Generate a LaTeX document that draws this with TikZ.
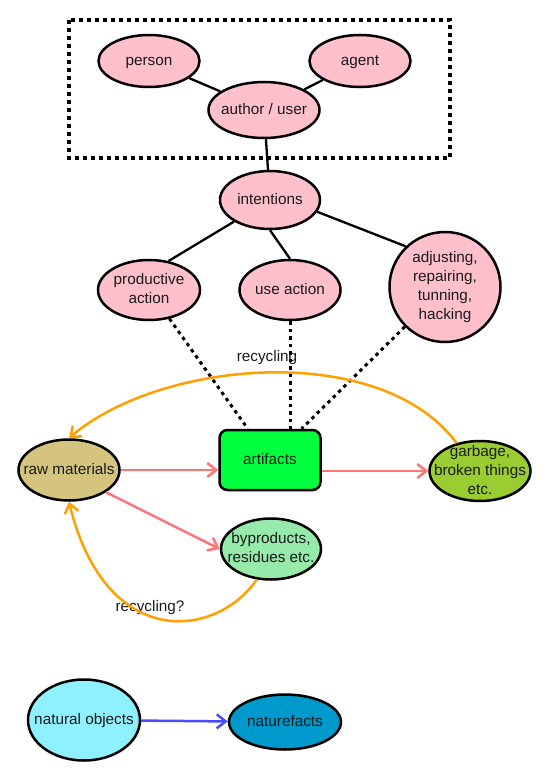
\documentclass[tikz,border=0pt]{standalone}
\usepackage{fontspec}
\setmainfont{Liberation Sans}
\usetikzlibrary{arrows.meta,shapes.geometric}
\definecolor{pinkc}{HTML}{FFC0CB}
\definecolor{rawc}{HTML}{D4C47E}
\definecolor{artc}{HTML}{00FF3C}
\definecolor{garbc}{HTML}{9ACD32}
\definecolor{byc}{HTML}{96EBAA}
\definecolor{natc}{HTML}{8FF0FF}
\definecolor{nfc}{HTML}{0099CC}
\definecolor{orc}{HTML}{FFA000}
\definecolor{redc}{HTML}{FF7575}
\definecolor{bluec}{HTML}{4B4BFF}
\definecolor{txtc}{HTML}{1A1A1A}
\newcommand\nodetxt[1]{\makebox[0pt]{\raisebox{-0.25em}[0pt][0pt]{\begin{tabular}{@{}c@{}}#1\end{tabular}}}}
\tikzset{
  base/.style={font=\fontsize{15.3bp}{19bp}\selectfont, text=txtc},
  ell/.style={base, ellipse, draw=black, line width=2.5bp, inner sep=0pt, fill=pinkc},
  boxnode/.style={base, rectangle, rounded corners=8bp, draw=black, line width=2.5bp, inner sep=0pt, fill=artc},
  lbl/.style={base, inner sep=1bp},
  conn/.style={line width=2.3bp, black},
  dotc/.style={line width=3bp, black, dash pattern=on 3.5bp off 4bp},
  framec/.style={line width=3.5bp, black, dash pattern=on 4bp off 4bp},
  barb/.style={-{Straight Barb[length=9bp,width=14bp]}},
  redarr/.style={barb, line width=2.5bp, redc},
  orarr/.style={barb, line width=2.5bp, orc},
  bluearr/.style={barb, line width=2.5bp, bluec},
}
\begin{document}
\begin{tikzpicture}[x=1bp, y=-1bp]
\useasboundingbox (0,0) rectangle (550,780);
% frame
\draw[framec] (69,20) rectangle (450,158);
% nodes
\node[ell, minimum width=101bp, minimum height=52bp] (person) at (149,61) {\nodetxt{person}};
\node[ell, minimum width=101bp, minimum height=52bp] (agent) at (360,61) {\nodetxt{agent}};
\node[ell, minimum width=111bp, minimum height=56bp] (author) at (264,110) {\nodetxt{author / user}};
\node[ell, minimum width=100bp, minimum height=58bp] (intentions) at (270,200) {\nodetxt{intentions}};
\node[ell, minimum width=102bp, minimum height=60bp] (productive) at (149,290) {\nodetxt{productive\\action}};
\node[ell, minimum width=101bp, minimum height=60bp] (use) at (290,290) {\nodetxt{use action}};
\node[ell, minimum width=111bp, minimum height=110bp] (adjusting) at (445,287) {\nodetxt{adjusting,\\repairing,\\tunning,\\hacking}};
\node[boxnode, minimum width=101bp, minimum height=60bp] (artifacts) at (270,460) {\nodetxt{artifacts}};
\node[ell, fill=rawc, minimum width=101bp, minimum height=61bp] (raw) at (69,470) {\nodetxt{raw materials}};
\node[ell, fill=garbc, minimum width=101bp, minimum height=60bp] (garbage) at (480,471) {\nodetxt{garbage,\\broken things\\etc.}};
\node[ell, fill=byc, minimum width=100bp, minimum height=61bp] (byproducts) at (271,549) {\nodetxt{byproducts,\\residues etc.}};
\node[ell, fill=natc, minimum width=112bp, minimum height=81bp] (natural) at (84,720) {\nodetxt{natural objects}};
\node[ell, fill=nfc, minimum width=112bp, minimum height=55bp] (naturefacts) at (285,722) {\nodetxt{naturefacts}};
% labels
\node[lbl] (rec1) at (267,358) {recycling};
\node[lbl] (rec2) at (150,608) {recycling?};
% solid connectors
\draw[conn] (person) -- (author);
\draw[conn] (agent) -- (author);
\draw[conn] (author) -- (intentions);
\draw[conn] (intentions.211) -- (productive.56);
\draw[conn] (intentions.south) -- (use.north);
\draw[conn] (intentions.-14) -- (adjusting.134);
% dotted connectors
\draw[dotc] (productive) -- (artifacts);
\draw[dotc] (use.south) -- (artifacts.north -| use.south);
\draw[dotc] (adjusting) -- (artifacts);
% red arrows
\draw[redarr] (raw.east) -- (artifacts.west |- raw.east);
\draw[redarr] (artifacts.east |- garbage.west) -- (garbage.west);
\draw[redarr] (raw.-31) -- (byproducts.west);
% orange recycling
\draw[orarr] (garbage.130) .. controls (380,340) and (160,360) .. (raw.north);
\draw[orarr] (byproducts.-115) .. controls (215,640) and (105,650) .. (raw.south);
% blue
\draw[bluearr] (natural) -- (naturefacts);
\end{tikzpicture}
\end{document}
